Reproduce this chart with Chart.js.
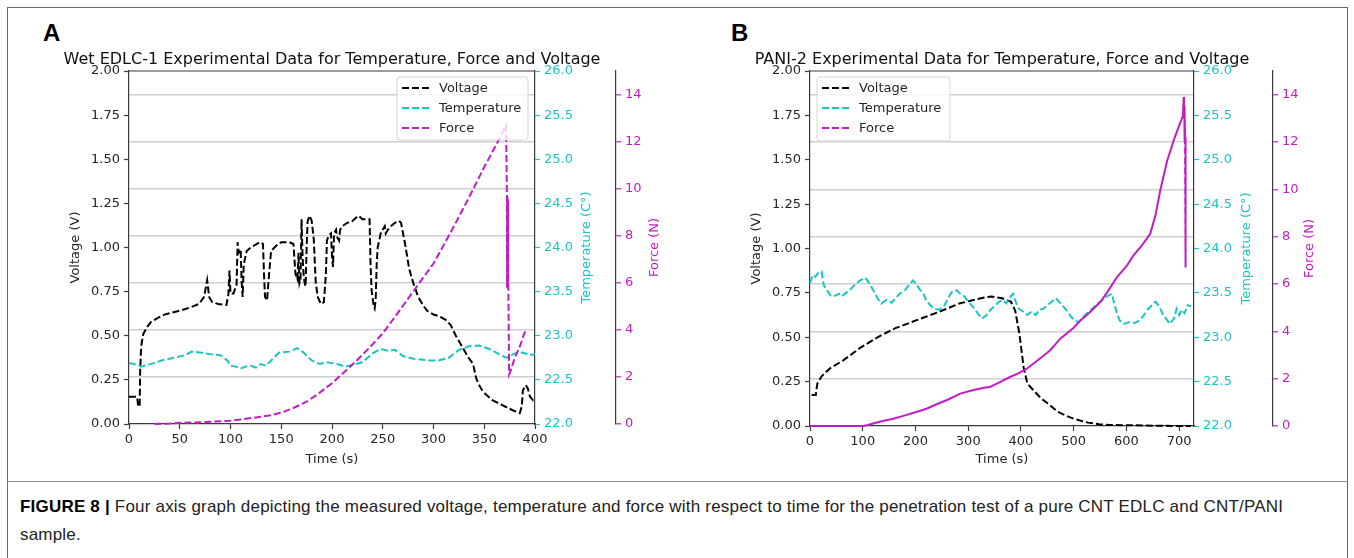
<!DOCTYPE html>
<html>
<head>
<meta charset="utf-8">
<script src="https://cdn.jsdelivr.net/npm/chart.js@4.4.1/dist/chart.umd.min.js"></script>
<style>
  html, body { margin: 0; padding: 0; background: #fff; }
  #page { position: relative; width: 1354px; height: 558px; overflow: hidden; }
  .frame { position: absolute; left: 7px; top: 7px; width: 1341px; height: 600px; border: 1.5px solid #6a6a6a; box-sizing: border-box; }
  .sep { position: absolute; left: 7px; top: 481px; width: 1341px; border-top: 1.5px solid #8a8a8a; }
  .panel { position: absolute; top: 0; }
  .letter { position: absolute; top: 21px; font: bold 24px/1 "Liberation Sans", Arial, sans-serif; color: #000; }
  .caption { position: absolute; left: 20px; top: 493px; width: 1300px; font: 17px/28px "Liberation Sans", Arial, sans-serif; letter-spacing: 0.2px; color: #222; }
  .caption b { font-weight: bold; color: #000; }
</style>
</head>
<body>
<div id="page">
  <div class="frame"></div>
  <div class="sep"></div>
  <div class="letter" style="left:43px">A</div>
  <div class="letter" style="left:731px">B</div>
  <div class="panel" style="left:0px"><canvas id="chartA" width="680" height="480"></canvas></div>
  <div class="panel" style="left:680px"><canvas id="chartB" width="674" height="480"></canvas></div>
  <div class="caption"><b>FIGURE 8 |</b> Four axis graph depicting the measured voltage, temperature and force with respect to time for the penetration test of a pure CNT EDLC and CNT/PANI sample.</div>
</div>
<script>
// Penetration test data: [time (s), value]
const voltageA = [[0,0.155],[8,0.155],[9,0.10],[10.5,0.10],[11,0.30],[12,0.44],[14,0.51],[18,0.55],[22,0.58],[28,0.60],[35,0.62],[45,0.635],[52,0.645],[60,0.66],[69,0.68],[74,0.72],[77,0.815],[79,0.72],[82,0.69],[88,0.68],[96,0.675],[98,0.74],[99,0.87],[100,0.74],[103,0.74],[106,0.79],[107,1.03],[108,0.97],[110,0.99],[111,0.80],[112,0.72],[113,0.90],[114,0.93],[116,0.98],[120,1.00],[129,1.03],[132,1.02],[133,0.85],[134,0.72],[136,0.70],[138,0.85],[140,0.98],[145,1.01],[150,1.03],[158,1.03],[162,1.02],[164,0.85],[166,0.82],[167,0.97],[168,0.80],[169,0.82],[170,1.16],[171,0.95],[172,0.85],[173,0.80],[174,0.78],[175,1.00],[176,1.15],[178,1.18],[180,1.15],[182,1.05],[184,0.80],[186,0.72],[189,0.68],[192,0.69],[194,0.85],[195,1.04],[197,1.07],[199,1.08],[200,0.95],[201,0.89],[202,1.08],[204,1.10],[205,1.06],[207,1.04],[208,1.10],[210,1.12],[215,1.14],[220,1.15],[226,1.18],[230,1.16],[237,1.16],[238,0.90],[239,0.76],[241,0.67],[242,0.655],[243,0.70],[244,0.90],[245,1.00],[248,1.08],[250,1.10],[252,1.12],[253,1.08],[255,1.10],[258,1.12],[262,1.14],[266,1.15],[268,1.14],[272,1.02],[276,0.88],[280,0.80],[285,0.72],[290,0.67],[294,0.64],[300,0.62],[306,0.61],[312,0.59],[317,0.56],[322,0.50],[326,0.46],[330,0.42],[334,0.38],[339,0.34],[342,0.26],[345,0.22],[348,0.19],[352,0.165],[358,0.135],[365,0.115],[372,0.095],[378,0.078],[385,0.062],[387,0.10],[388,0.19],[391,0.22],[393,0.20],[395,0.155],[398,0.135],[400,0.15]]
const tempA = [[0,22.69],[5,22.68],[12,22.65],[18,22.67],[25,22.69],[32,22.72],[40,22.74],[48,22.76],[55,22.78],[62,22.82],[70,22.81],[80,22.79],[90,22.78],[97,22.72],[100,22.66],[105,22.65],[110,22.63],[115,22.65],[120,22.66],[125,22.64],[130,22.68],[135,22.66],[140,22.72],[148,22.81],[158,22.82],[166,22.86],[172,22.81],[180,22.72],[188,22.68],[195,22.70],[205,22.68],[213,22.65],[220,22.67],[230,22.70],[240,22.80],[248,22.85],[255,22.83],[262,22.84],[270,22.77],[280,22.74],[295,22.72],[305,22.72],[315,22.75],[325,22.84],[335,22.88],[345,22.89],[355,22.85],[365,22.79],[372,22.75],[380,22.80],[388,22.81],[395,22.78],[400,22.79]]
const forceA = [[25,0],[40,0.02],[50,0.05],[75,0.08],[100,0.14],[112,0.2],[125,0.28],[138,0.36],[150,0.48],[162,0.68],[175,0.95],[187,1.3],[200,1.73],[212,2.2],[225,2.72],[237,3.25],[250,3.85],[262,4.55],[275,5.33],[287,6.05],[300,6.82],[312,7.75],[325,8.8],[337,9.8],[350,10.92],[361,11.8],[371.5,12.69],[372.3,9.8],[372.5,5.8],[372.7,9.7],[372.9,5.7],[373.1,9.6],[373.3,5.8],[373.5,9.5],[373.7,6.0],[374.5,2.1],[375.5,2.2],[377,2.4],[380,2.8],[383,3.1],[386,3.4],[389,3.8],[391,4.0]]

const voltageB = [[3,0.175],[11,0.175],[12,0.20],[14,0.24],[22,0.28],[38,0.325],[63,0.37],[95,0.44],[128,0.50],[161,0.55],[201,0.595],[242,0.64],[283,0.69],[324,0.72],[344,0.73],[364,0.72],[381,0.70],[389,0.65],[397,0.52],[405,0.33],[412,0.24],[421,0.21],[438,0.155],[454,0.12],[470,0.08],[487,0.056],[503,0.038],[527,0.019],[548,0.01],[568,0.006],[609,0.004],[650,0.002],[698,0],[722,0]]
const tempB = [[0,23.61],[5,23.70],[10,23.68],[15,23.72],[22,23.74],[26,23.59],[32,23.53],[40,23.46],[48,23.47],[55,23.49],[60,23.46],[68,23.50],[75,23.53],[85,23.59],[95,23.64],[105,23.67],[112,23.61],[120,23.53],[128,23.44],[135,23.38],[145,23.42],[155,23.39],[162,23.44],[170,23.49],[180,23.53],[188,23.59],[195,23.64],[200,23.61],[208,23.54],[215,23.49],[220,23.42],[228,23.36],[236,23.32],[245,23.31],[255,23.36],[262,23.44],[270,23.52],[278,23.53],[285,23.49],[293,23.46],[300,23.40],[308,23.35],[318,23.27],[326,23.21],[335,23.25],[342,23.31],[350,23.35],[358,23.40],[365,23.42],[372,23.38],[378,23.44],[385,23.49],[390,23.40],[396,23.32],[404,23.29],[412,23.25],[420,23.29],[428,23.25],[435,23.31],[442,23.32],[450,23.36],[458,23.40],[466,23.44],[472,23.40],[480,23.35],[488,23.29],[495,23.23],[502,23.19],[510,23.17],[518,23.23],[525,23.27],[535,23.32],[545,23.38],[555,23.42],[565,23.47],[572,23.49],[577,23.38],[582,23.27],[587,23.19],[595,23.15],[605,23.17],[615,23.16],[625,23.19],[632,23.24],[640,23.31],[648,23.36],[655,23.40],[662,23.35],[668,23.27],[675,23.21],[682,23.15],[690,23.21],[695,23.32],[700,23.25],[705,23.31],[710,23.27],[716,23.36],[722,23.35]]
const forceB = [[0,0],[100,0],[110,0.04],[125,0.14],[140,0.22],[158,0.31],[180,0.45],[200,0.58],[221,0.73],[240,0.92],[262,1.12],[285,1.37],[310,1.52],[330,1.62],[341,1.65],[360,1.85],[379,2.07],[395,2.22],[411,2.42],[430,2.75],[455,3.19],[475,3.70],[500,4.15],[512,4.45],[520,4.6],[530,4.8],[550,5.23],[565,5.7],[582,6.29],[600,6.75],[613,7.2],[630,7.65],[645,8.12],[655,8.9],[664,9.95],[677,11.2],[690,12.1],[700,12.7],[707,13.1],[708.5,13.9],[709,13.0],[709.5,13.5],[710,12.0],[710.5,13.2],[711,12.2],[712,6.7]]

const voltageTicks = [0, 0.25, 0.5, 0.75, 1, 1.25, 1.5, 1.75, 2]
const legendLabels = ["Voltage", "Temperature", "Force"]

const FONT = "'DejaVu Sans', sans-serif"
const INK = "#262626"
const SPINE = "#3a3a3a"
const CYAN = "#1cc4c4"
const MAGENTA = "#c21dc2"
const GRID = "#cfcfcf"
const DASH = [7, 3]

const toXY = pts => pts.map(([x, y]) => ({ x, y }))

function buildPanel(canvasId, p) {
  const decor = {
    id: "decor_" + canvasId,
    afterDatasetsDraw(chart) {
      const ctx = chart.ctx
      const a = chart.chartArea
      ctx.save()
      // top spine (the other three come from the axis borders)
      ctx.strokeStyle = SPINE
      ctx.lineWidth = 1.2
      ctx.beginPath()
      ctx.moveTo(a.left, a.top)
      ctx.lineTo(a.right, a.top)
      ctx.stroke()

      // legend box
      const L = p.legend
      ctx.fillStyle = "rgba(255,255,255,0.8)"
      ctx.strokeStyle = "#d4d4d4"
      ctx.lineWidth = 1
      ctx.beginPath()
      ctx.roundRect(L.x, L.y, L.w, L.h, 3)
      ctx.fill()
      ctx.stroke()
      const cols = ["#000", CYAN, MAGENTA]
      ctx.font = "13px " + FONT
      ctx.textBaseline = "middle"
      legendLabels.forEach((lab, i) => {
        const yy = L.y + 11 + i * 20
        ctx.strokeStyle = cols[i]
        ctx.lineWidth = 2
        ctx.setLineDash(DASH)
        ctx.beginPath()
        ctx.moveTo(L.x + 5, yy)
        ctx.lineTo(L.x + 32, yy)
        ctx.stroke()
        ctx.setLineDash([])
        ctx.fillStyle = INK
        ctx.textAlign = "left"
        ctx.fillText(lab, L.x + 42, yy + 1)
      })

      // chart title
      ctx.fillStyle = "#111"
      ctx.font = "16px " + FONT
      ctx.textAlign = "center"
      ctx.textBaseline = "alphabetic"
      ctx.fillText(p.title, (a.left + a.right) / 2, 64)

      // right-hand axis titles, read bottom to top like matplotlib
      const midY = (a.top + a.bottom) / 2
      ctx.font = "13px " + FONT
      ctx.textBaseline = "middle"
      ;[[p.tempTitleX, "Temperature (C°)", CYAN], [p.forceTitleX, "Force (N)", MAGENTA]].forEach(([x, txt, col]) => {
        ctx.save()
        ctx.translate(x, midY)
        ctx.rotate(-Math.PI / 2)
        ctx.fillStyle = col
        ctx.fillText(txt, 0, 0)
        ctx.restore()
      })
      ctx.restore()
    },
  }

  const tickFont = { family: FONT, size: 13 }

  return new Chart(document.getElementById(canvasId), {
    type: "line",
    data: {
      datasets: [
        {
          label: "Force", data: toXY(p.force), yAxisID: "y2",
          borderColor: MAGENTA, borderWidth: 2, borderDash: p.forceDash, pointRadius: 0,
          segment: p.forceSegment, clip: 4,
        },
        {
          label: "Temperature", data: toXY(p.temp), yAxisID: "y1",
          borderColor: CYAN, borderWidth: 2, borderDash: DASH, pointRadius: 0, clip: 4,
        },
        {
          label: "Voltage", data: toXY(p.voltage), yAxisID: "y",
          borderColor: "#000", borderWidth: 2, borderDash: DASH, pointRadius: 0, clip: 4,
        },
      ],
    },
    options: {
      responsive: false,
      animation: false,
      layout: { padding: { top: 71, left: 0, right: 0, bottom: 0 } },
      plugins: { legend: { display: false }, tooltip: { enabled: false } },
      scales: {
        x: {
          type: "linear", min: 0, max: p.xMax,
          ticks: { stepSize: p.xStep, includeBounds: false, color: INK, font: tickFont, padding: 3, maxRotation: 0, autoSkip: false },
          grid: { drawOnChartArea: false, tickLength: 5, tickColor: SPINE, tickWidth: 1.2 },
          border: { color: SPINE, width: 1.2 },
          title: { display: true, text: "Time (s)", color: INK, font: tickFont, padding: { top: 0, bottom: 13 } },
          afterFit: s => { s.height = p.xHeight },
        },
        y: {
          position: "left", min: 0, max: 2,
          afterBuildTicks: s => { s.ticks = voltageTicks.map(v => ({ value: v })) },
          ticks: { color: INK, font: tickFont, padding: 4, callback: v => v.toFixed(2) },
          grid: { drawOnChartArea: false, tickLength: 5, tickColor: SPINE, tickWidth: 1.2 },
          border: { color: SPINE, width: 1.2 },
          title: { display: true, text: "Voltage (V)", color: INK, font: tickFont, padding: { top: p.vTitlePad, bottom: 0 } },
          afterFit: s => { s.width = p.leftW },
        },
        y1: {
          position: "right", min: 22, max: 26,
          ticks: { stepSize: 0.5, color: CYAN, font: tickFont, padding: 4, callback: v => v.toFixed(1) },
          grid: { drawOnChartArea: false, tickLength: 5, tickColor: CYAN, tickWidth: 1.2 },
          border: { color: SPINE, width: 1.2 },
          afterFit: s => { s.width = p.tempW },
        },
        y2: {
          position: "right", min: 0, max: 15,
          ticks: { stepSize: 2, includeBounds: false, color: MAGENTA, font: tickFont, padding: 4 },
          grid: {
            drawOnChartArea: true, lineWidth: 1.6, tickLength: 5, tickColor: MAGENTA, tickWidth: 1.2,
            color: c => (c.tick && c.tick.value === 0 ? "rgba(0,0,0,0)" : GRID),
          },
          border: { color: SPINE, width: 1.2 },
          afterFit: s => { s.width = p.forceW },
        },
      },
    },
    plugins: [decor],
  })
}

buildPanel("chartA", {
  title: "Wet EDLC-1 Experimental Data for Temperature, Force and Voltage",
  voltage: voltageA, temp: tempA, force: forceA,
  forceDash: DASH,
  xMax: 400, xStep: 50, xHeight: 56,
  leftW: 129, tempW: 81, forceW: 64, vTitlePad: 68,
  tempTitleX: 587, forceTitleX: 655,
  legend: { x: 397, y: 77, w: 131, h: 63 },
})

buildPanel("chartB", {
  title: "PANI-2 Experimental Data for Temperature, Force and Voltage",
  voltage: voltageB, temp: tempB, force: forceB,
  forceDash: [],
  // only the final drop after the peak is dashed
  forceSegment: { borderDash: c => (c.p0.parsed.x >= 711 ? DASH : undefined) },
  xMax: 728, xStep: 100, xHeight: 54,
  leftW: 130, tempW: 79, forceW: 81, vTitlePad: 69,
  tempTitleX: 567, forceTitleX: 630,
  legend: { x: 137, y: 77, w: 133, h: 64 },
})
</script>
</body>
</html>
